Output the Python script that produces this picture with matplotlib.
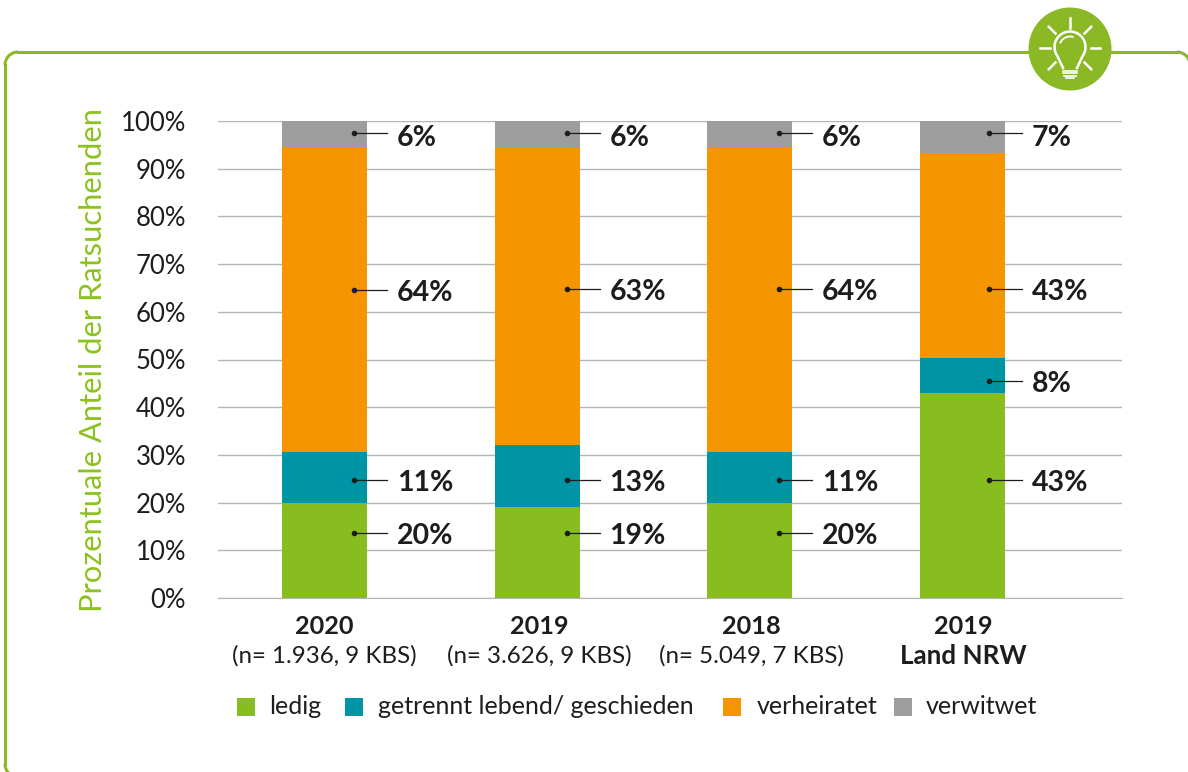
import numpy as np
import matplotlib
matplotlib.use('Agg')
import matplotlib.pyplot as plt
from matplotlib.patches import Circle, Rectangle, Arc

plt.rcParams['font.family'] = ['Lato', 'DejaVu Sans']

years = ['2020', '2019', '2018', '2019']
subs = ['(n= 1.936, 9 KBS)', '(n= 3.626, 9 KBS)', '(n= 5.049, 7 KBS)', 'Land NRW']
series = ['ledig', 'getrennt lebend/ geschieden', 'verheiratet', 'verwitwet']

ledig = [20, 19, 20, 43]
getrennt = [10.6, 13, 10.6, 7.3]
verheiratet = [63.9, 62.3, 63.9, 43]
verwitwet = [5.5, 5.7, 5.5, 6.7]

lab_ledig = ['20%', '19%', '20%', '43%']
lab_getrennt = ['11%', '13%', '11%', '8%']
lab_verheiratet = ['64%', '63%', '64%', '43%']
lab_verwitwet = ['6%', '6%', '6%', '7%']

# heights of the leader lines, they do not sit in the middle of the bands
lead_ledig = [13.6, 13.6, 13.7, 24.7]
lead_getrennt = [24.7, 24.7, 24.8, 45.5]
lead_verheiratet = [64.5, 64.7, 64.7, 64.7]
lead_verwitwet = [97.5, 97.5, 97.5, 97.5]
lead_x = [0.14, 0.14, 0.138, 0.125]

colors = ['#88bd20', '#0095a5', '#f59500', '#9d9d9d']
GREEN = '#8ab925'
INK = '#1d1d1b'
W, H = 1188, 772

fig = plt.figure(figsize=(W / 100, H / 100), dpi=100)

# overlay in pixel coordinates for the frame, the bulb and the legend
bg = fig.add_axes([0, 0, 1, 1])
bg.set_xlim(0, W)
bg.set_ylim(H, 0)
bg.axis('off')

# frame is open on the right and at the bottom
r = 13
fx0, fy0, fx1 = 5, 52, 1190
bg.plot([fx0 + r, fx1 - r], [fy0, fy0], color=GREEN, lw=2.2)
bg.plot([fx0, fx0], [fy0 + r, 764], color=GREEN, lw=2.2)
# y axis is flipped here, so the arc angles run clockwise on screen
bg.add_patch(Arc((fx0 + r, fy0 + r), 2 * r, 2 * r, theta1=180, theta2=270, ec=GREEN, lw=2.2))
bg.add_patch(Arc((fx1 - r, fy0 + r), 2 * r, 2 * r, theta1=270, theta2=360, ec=GREEN, lw=2.2))
bg.add_patch(Arc((fx0 + r, 764), 2 * r, 2 * r, theta1=90, theta2=180, ec=GREEN, lw=2.2))

# light bulb
cx, cy = 1070, 49
bg.add_patch(Circle((cx, cy), 41.5, fc=GREEN, ec='none', zorder=4))
for a in [0, 45, 135, 180, 225, 270, 315]:
    dx, dy = np.cos(np.radians(a)), np.sin(np.radians(a))
    bg.plot([cx + 20.5 * dx, cx + 30 * dx], [cy - 1 + 20.5 * dy, cy - 1 + 30 * dy],
            color='white', lw=1.8, zorder=5)
t = np.radians(np.linspace(-215, 35, 60))
bx = np.r_[cx - 7, cx + 15.5 * np.cos(t), cx + 7]
by = np.r_[cy + 19, cy - 2 + 15.5 * np.sin(t), cy + 19]
bg.plot(bx, by, color='white', lw=1.8, zorder=5)
bg.add_patch(Arc((cx, cy - 2), 21, 21, theta1=200, theta2=290, ec='white', lw=1.3, zorder=5))
for i, hw in enumerate([7, 7, 6, 4]):
    bg.plot([cx - hw, cx + hw], [cy + 21.5 + i * 2.6] * 2, color='white', lw=1.2, zorder=5)

ax = fig.add_axes([218 / W, 1 - 598 / H, (1122 - 218) / W, (598 - 121) / H])
ax.patch.set_alpha(0)

x = np.arange(len(years))
vals = [ledig, getrennt, verheiratet, verwitwet]
labs = [lab_ledig, lab_getrennt, lab_verheiratet, lab_verwitwet]
leads = [lead_ledig, lead_getrennt, lead_verheiratet, lead_verwitwet]
text_dy = [-3, -3, -3, -5]
bottom = np.zeros(len(years))
for v, l, ly, c, tdy in zip(vals, labs, leads, colors, text_dy):
    ax.bar(x, v, 0.4, bottom=bottom, color=c, zorder=2)
    for xi, yi, s, lx in zip(x, ly, l, lead_x):
        ax.plot([xi + lx, xi + lx + 0.155], [yi, yi], color=INK, lw=0.9, zorder=3)
        ax.plot(xi + lx, yi, 'o', color=INK, ms=3, zorder=3)
        ax.annotate(s, (xi + lx + 0.2, yi), xytext=(0, tdy), textcoords='offset pixels',
                    fontsize=20.5, fontweight='bold', va='center', color=INK, zorder=3)
    bottom += np.array(v)

ax.set_xlim(-0.5, 3.75)
ax.set_ylim(0, 100)
ax.set_yticks(np.arange(0, 101, 10))
ax.set_yticklabels([f'{i}%' for i in range(0, 101, 10)], fontsize=18.5, color=INK)
ax.tick_params(axis='both', length=0)
ax.tick_params(axis='y', pad=23)
ax.grid(axis='y', color='#b5b5b5', lw=1, zorder=0)
ax.set_axisbelow(True)
for s in ax.spines.values():
    s.set_visible(False)
ax.spines['bottom'].set_visible(True)
ax.spines['bottom'].set_color('#b5b5b5')
ax.set_xticks([])
ax.set_ylabel('Prozentuale Anteil der Ratsuchenden', fontsize=22.2, color='#8cc21e', labelpad=10)

sub_dx = [0, 2, 2, 1]
for xi, yr, sb, dx in zip(x, years, subs, sub_dx):
    ax.annotate(yr, (xi, 0), xytext=(dx, -29), textcoords='offset pixels', ha='center', va='center',
                fontsize=18.2, fontweight='bold', color=INK)
    bold = sb.startswith('Land')
    ax.annotate(sb, (xi, 0), xytext=(dx, -58), textcoords='offset pixels', ha='center', va='center',
                fontsize=18.7 if bold else 17.4, fontweight='bold' if bold else 'normal', color=INK)

# legend, spaced unevenly like the original
sq_x = [237, 345, 723, 894]
tx_x = [269, 378, 757, 926]
for sx, tx, name, c in zip(sq_x, tx_x, series, colors):
    bg.add_patch(Rectangle((sx, 698), 18, 18, fc=c, ec='none'))
    bg.text(tx, 707, name, fontsize=18, va='center', color=INK)

fig.savefig('out.png', dpi=100)
